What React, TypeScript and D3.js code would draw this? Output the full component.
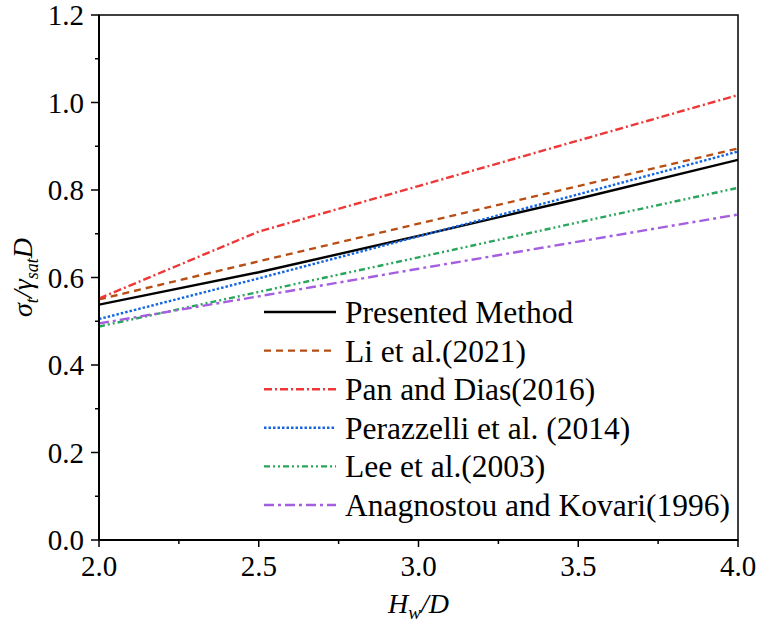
import * as d3 from "d3";

const hwRatio = [2.0, 2.5, 3.0, 3.5, 4.0];

const presented = [0.538, 0.612, 0.695, 0.78, 0.869];
const li2021 = [0.55, 0.637, 0.723, 0.809, 0.895];
const panDias2016 = [0.552, 0.705, 0.809, 0.913, 1.017];
const perazzelli2014 = [0.505, 0.598, 0.694, 0.79, 0.888];
const lee2003 = [0.488, 0.567, 0.646, 0.726, 0.805];
const anagnostou1996 = [0.495, 0.557, 0.62, 0.682, 0.744];

const seriesNames = [
  "Presented Method",
  "Li et al.(2021)",
  "Pan and Dias(2016)",
  "Perazzelli et al. (2014)",
  "Lee et al.(2003)",
  "Anagnostou and Kovari(1996)",
];

const xTicks = [2.0, 2.5, 3.0, 3.5, 4.0];
const yTicks = [0, 0.2, 0.4, 0.6, 0.8, 1.0, 1.2];

const W = 759;
const H = 628;
const margin = { left: 99, right: 21, top: 15, bottom: 88 };
const FONT = "Liberation Serif, Times New Roman, serif";

const styles = [
  { color: "#000000", dash: undefined },
  { color: "#b84e14", dash: "7,5" },
  { color: "#ee3838", dash: "8,3,2,3" },
  { color: "#1466e0", dash: "2.5,2" },
  { color: "#2aa55c", dash: "6,3,2,3,2,3" },
  { color: "#a55ee0", dash: "10,4,3,4" },
];
const values = [presented, li2021, panDias2016, perazzelli2014, lee2003, anagnostou1996];

export default function App() {
  const x = d3.scaleLinear().domain([2, 4]).range([margin.left, W - margin.right]);
  const y = d3.scaleLinear().domain([0, 1.2]).range([H - margin.bottom, margin.top]);
  const line = d3
    .line<number>()
    .x((_, i) => x(hwRatio[i]))
    .y((d) => y(d));

  const x0 = margin.left;
  const x1 = W - margin.right;
  const y0 = H - margin.bottom;
  const y1 = margin.top;

  // minor ticks sit halfway between the labelled ones
  const xMinor = d3.range(2.25, 4, 0.5);
  const yMinor = d3.range(0.1, 1.2, 0.2);

  return (
    <svg
      width={W}
      height={H}
      style={{ position: "absolute", left: 0, top: 0, background: "#fff" }}
    >
      <defs>
        <clipPath id="plot-clip">
          <rect x={x0} y={y1} width={x1 - x0} height={y0 - y1} />
        </clipPath>
      </defs>

      <g clipPath="url(#plot-clip)">
        {values.map((v, i) => (
          <path
            key={seriesNames[i]}
            d={line(v) ?? ""}
            fill="none"
            stroke={styles[i].color}
            strokeWidth={2.4}
            strokeDasharray={styles[i].dash}
          />
        ))}
      </g>

      <rect x={x0} y={y1} width={x1 - x0} height={y0 - y1} fill="none" stroke="#000" strokeWidth={1.5} />
      <line x1={x0} x2={x1} y1={y0} y2={y0} stroke="#000" strokeWidth={2} />
      <line x1={x0} x2={x0} y1={y0} y2={y1} stroke="#000" strokeWidth={2} />

      {/* x ticks */}
      {xTicks.map((t) => (
        <g key={`xt${t}`}>
          <line x1={x(t)} x2={x(t)} y1={y0} y2={y0 + 7} stroke="#000" strokeWidth={1.5} />
          <text x={x(t)} y={y0 + 36} textAnchor="middle" fontFamily={FONT} fontSize={29}>
            {t.toFixed(1)}
          </text>
        </g>
      ))}
      {xMinor.map((t) => (
        <line key={`xm${t}`} x1={x(t)} x2={x(t)} y1={y0} y2={y0 + 4} stroke="#000" strokeWidth={1.5} />
      ))}

      {/* y ticks */}
      {yTicks.map((t) => (
        <g key={`yt${t}`}>
          <line x1={x0 - 8} x2={x0} y1={y(t)} y2={y(t)} stroke="#000" strokeWidth={1.5} />
          <text x={x0 - 15} y={y(t)} dy="0.35em" textAnchor="end" fontFamily={FONT} fontSize={29}>
            {t.toFixed(1)}
          </text>
        </g>
      ))}
      {yMinor.map((t) => (
        <line key={`ym${t}`} x1={x0 - 4} x2={x0} y1={y(t)} y2={y(t)} stroke="#000" strokeWidth={1.5} />
      ))}

      {/* axis titles */}
      <text x={x(3)} y={H - 15} textAnchor="middle" fontFamily={FONT} fontSize={28} fontStyle="italic">
        <tspan>H</tspan>
        <tspan fontSize={19} dy={6}>w</tspan>
        <tspan dy={-6}>/D</tspan>
      </text>
      <text
        transform={`translate(32,${y(0.6)}) rotate(-90)`}
        textAnchor="middle"
        fontFamily={FONT}
        fontSize={28}
        fontStyle="italic"
      >
        <tspan>σ</tspan>
        <tspan fontSize={18} dy={6}>t</tspan>
        <tspan dy={-6}>/γ</tspan>
        <tspan fontSize={18} dy={6}>sat</tspan>
        <tspan dy={-6}>D</tspan>
      </text>

      {/* legend */}
      <g transform="translate(264,312)">
        {seriesNames.map((name, i) => (
          <g key={name} transform={`translate(0,${i * 38.6})`}>
            <line
              x1={0}
              x2={72}
              stroke={styles[i].color}
              strokeWidth={2.4}
              strokeDasharray={styles[i].dash}
            />
            <text x={81} dy="0.35em" fontFamily={FONT} fontSize={31.5}>
              {name}
            </text>
          </g>
        ))}
      </g>
    </svg>
  );
}
